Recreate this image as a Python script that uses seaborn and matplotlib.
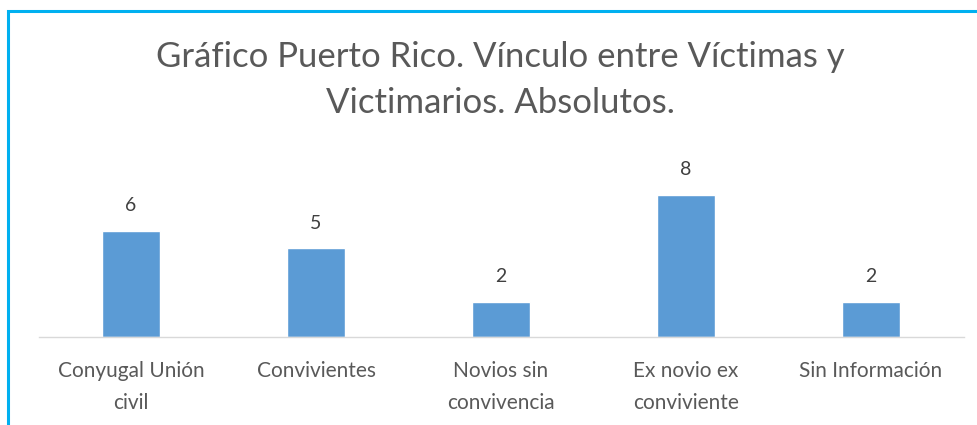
import matplotlib
matplotlib.use("Agg")
import matplotlib.pyplot as plt
import seaborn as sns
import pandas as pd
from matplotlib.patches import Rectangle

categories = ["Conyugal Unión\ncivil", "Convivientes", "Novios sin\nconvivencia",
              "Ex novio ex\nconviviente", "Sin Información"]
values = [6, 5, 2, 8, 2]
title = "Gráfico Puerto Rico. Vínculo entre Víctimas y\nVictimarios. Absolutos."

sns.set_theme(style="white")
plt.rcParams['font.family'] = ['Lato', 'DejaVu Sans']

W, H = 978, 425
fig = plt.figure(figsize=(W / 100, H / 100), dpi=100)
ax = fig.add_axes([38.5 / W, (H - 337) / H, (963.5 - 38.5) / W, (337 - 159.5) / H])

df = pd.DataFrame({"cat": categories, "val": values})
sns.barplot(data=df, x="cat", y="val", ax=ax, color="#5b9bd5", saturation=1, width=0.31)

ax.set_ylim(0, 10)
ax.set_xlim(-0.5, len(categories) - 0.5)
for s in ["top", "right", "left"]:
    ax.spines[s].set_visible(False)
ax.spines["bottom"].set_color("#d9d9d9")
ax.spines["bottom"].set_linewidth(1.0)
ax.set_yticks([])
ax.set_xlabel("")
ax.set_ylabel("")
ax.tick_params(axis="x", length=0, pad=17, labelsize=15, colors="#595959")
for lbl in ax.get_xticklabels():
    lbl.set_linespacing(1.75)

for c in ax.containers:
    ax.bar_label(c, labels=[str(v) for v in values], padding=12, fontsize=14, color="#404040")

fig.text(500 / W, 1 - 80 / H, title, ha="center", va="center", fontsize=25,
         color="#595959", linespacing=1.55)

rect = Rectangle((8 / W, -0.1), 1.2, (H - 11) / H + 0.1, transform=fig.transFigure,
                 fill=False, edgecolor="#00b0f0", linewidth=2.2, clip_on=False)
fig.patches.append(rect)

fig.savefig("out.png", dpi=100)
